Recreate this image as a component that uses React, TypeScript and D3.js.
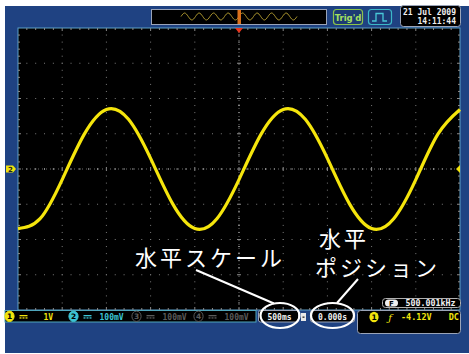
import React from "react";
import * as d3 from "d3";

const traceTime = [0, 0.5, 1, 1.5, 2, 2.5, 3, 3.5, 4, 4.5, 5, 5.5, 6, 6.5, 7, 7.5, 8, 8.5, 9, 9.5, 10];
const traceVolt = [-1.69, -1.41, -0.3, 0.99, 1.69, 1.41, 0.3, -0.99, -1.69, -1.41, -0.3, 0.99, 1.69, 1.41, 0.3, -0.99, -1.69, -1.41, -0.3, 0.99, 1.69];

// Record overview waveform (quarter-period samples)
const miniWave = [0, 1, 0, -1, 0, 1, 0, -1, 0, 1, 0, -1, 0, 1, 0, -1, 0, 1, 0, -1, 0, 1, 0, -1, 0, 1, 0, -1, 0, 1, 0, -1, 0];

const channelLabels = ["1", "2", "3", "4"];
const channelScales = ["1V", "100mV", "100mV", "100mV"];
const channelColors = ["#f2e40c", "#3cc4d4", "#5a5a5a", "#5a5a5a"];
const timeScaleLabel = "500ms";
const timePosLabel = "0.000s";
const freqLabel = "500.001kHz";
const trigLevel = "-4.12V";
const trigCoupling = "DC";
const dateLine = "21 Jul 2009";
const timeLine = "14:11:44";
const annotScale = "水平スケール";
const annotPos1 = "水平";
const annotPos2 = "ポジション";

const DIVX = 10;
const DIVY = 8;

export default function App() {
  const x = d3.scaleLinear().domain([0, DIVX]).range([18, 460]);
  const y = d3.scaleLinear().domain([-DIVY / 2, DIVY / 2]).range([310, 28]);

  const line = d3
    .line<number>()
    .x((_, i) => x(traceTime[i]))
    .y((d) => y(d))
    .curve(d3.curveNatural);

  const mx = d3.scaleLinear().domain([0, miniWave.length - 1]).range([181, 297]);
  const my = d3.scaleLinear().domain([-1, 1]).range([20, 13]);
  const miniLine = d3
    .line<number>()
    .x((_, i) => mx(i))
    .y((d) => my(d))
    .curve(d3.curveNatural);

  const dots: React.ReactNode[] = [];
  for (let j = 1; j < DIVY; j++) {
    if (j === DIVY / 2) continue;
    for (let k = 1; k < DIVX * 5; k++) {
      dots.push(<rect key={`h${j}-${k}`} x={x(k / 5) - 0.5} y={y(j - DIVY / 2) - 0.5} width={1} height={1} fill="#7a7a7a" />);
    }
  }
  for (let i = 1; i < DIVX; i++) {
    if (i === DIVX / 2) continue;
    for (let k = 1; k < DIVY * 5; k++) {
      dots.push(<rect key={`v${i}-${k}`} x={x(i) - 0.5} y={y(k / 5 - DIVY / 2) - 0.5} width={1} height={1} fill="#7a7a7a" />);
    }
  }
  const ticks: React.ReactNode[] = [];
  for (let k = 1; k < DIVX * 5; k++) {
    const big = k % 5 === 0;
    const xx = x(k / 5);
    ticks.push(<line key={`ct${k}`} x1={xx} x2={xx} y1={y(0) - (big ? 2 : 1)} y2={y(0) + (big ? 2 : 1)} stroke="#8a8a8a" strokeWidth={1} />);
    ticks.push(<line key={`tt${k}`} x1={xx} x2={xx} y1={28} y2={28 + (big ? 3 : 2)} stroke="#8a8a8a" strokeWidth={1} />);
    ticks.push(<line key={`bt${k}`} x1={xx} x2={xx} y1={310} y2={310 - (big ? 3 : 2)} stroke="#8a8a8a" strokeWidth={1} />);
  }
  for (let k = 1; k < DIVY * 5; k++) {
    const big = k % 5 === 0;
    const yy = y(k / 5 - DIVY / 2);
    ticks.push(<line key={`cv${k}`} x1={x(5) - (big ? 2 : 1)} x2={x(5) + (big ? 2 : 1)} y1={yy} y2={yy} stroke="#8a8a8a" strokeWidth={1} />);
    ticks.push(<line key={`lv${k}`} x1={18} x2={18 + (big ? 3 : 2)} y1={yy} y2={yy} stroke="#8a8a8a" strokeWidth={1} />);
    ticks.push(<line key={`rv${k}`} x1={460} x2={460 - (big ? 3 : 2)} y1={yy} y2={yy} stroke="#8a8a8a" strokeWidth={1} />);
  }
  ticks.push(<line key="cx" x1={18} x2={460} y1={y(0)} y2={y(0)} stroke="#6a6a6a" strokeWidth={1} strokeDasharray="1 3" />);
  ticks.push(<line key="cy" x1={x(5)} x2={x(5)} y1={28} y2={310} stroke="#6a6a6a" strokeWidth={1} strokeDasharray="1 3" />);

  const mono = "'DejaVu Sans Mono', monospace";
  const blue = "#1f4282";

  const chX = [9.5, 73.5, 136.5, 198.5];

  const dcSym = (cx: number, color: string, key: string) => (
    <g key={key}>
      <rect x={cx - 4} y={315} width={8} height={1.3} fill={color} />
      <rect x={cx - 4} y={317.3} width={2} height={1.3} fill={color} />
      <rect x={cx - 1} y={317.3} width={2} height={1.3} fill={color} />
      <rect x={cx + 2} y={317.3} width={2} height={1.3} fill={color} />
    </g>
  );

  return (
    <svg width={469} height={354} style={{ position: "absolute", left: 0, top: 0, background: "#ffffff" }}>
      <rect x={5} y={6} width={464} height={347} fill={blue} />
      <rect x={18} y={28} width={442} height={282} fill="#000" stroke="#5d9fc8" strokeWidth={1} />
      {dots}
      {ticks}
      <path d={line(traceVolt) || ""} fill="none" stroke="#f5e50c" strokeWidth={3.2} strokeLinejoin="round" />

      {/* top bar */}
      <rect x={151.5} y={9.5} width={175} height={15} fill="#000" stroke="#9aa4b8" strokeWidth={1} />
      <path d={miniLine(miniWave) || ""} fill="none" stroke="#b09a30" strokeWidth={1} />
      <rect x={237.5} y={10} width={3.5} height={14} fill="#d9701c" />
      <rect x={333.5} y={9.5} width={29} height={15} rx={3} fill="#1c3a74" stroke="#8cc44c" strokeWidth={1.2} />
      <text x={348} y={20.5} textAnchor="middle" fontFamily="'DejaVu Sans', sans-serif" fontWeight="bold" fontSize={8.5} fill="#a6e060">Trig'd</text>
      <rect x={368.5} y={9.5} width={23} height={15} rx={3} fill="#1c3a74" stroke="#3cb8c8" strokeWidth={1.2} />
      <path d="M372,21 L376,21 L376,13.5 L383,13.5 L383,21 L387,21" fill="none" stroke="#48c8d8" strokeWidth={1.3} />
      <rect x={400.5} y={5.5} width={60} height={21} rx={3} fill="#000" stroke="#9aa4b8" strokeWidth={1} />
      <text x={456} y={15} textAnchor="end" fontFamily={mono} fontWeight="bold" fontSize={8} fill="#f0f0f0">{dateLine}</text>
      <text x={456} y={24} textAnchor="end" fontFamily={mono} fontWeight="bold" fontSize={8} fill="#f0f0f0">{timeLine}</text>

      {/* markers */}
      <path d={`M${x(5) - 4},28 L${x(5) + 4},28 L${x(5)},33 Z`} fill="#e8361e" />
      <path d={`M6,${y(0) - 3.5} L13,${y(0) - 3.5} L16,${y(0)} L13,${y(0) + 3.5} L6,${y(0) + 3.5} Z`} fill="#f2e40c" />
      <text x={10.5} y={y(0) + 2.8} textAnchor="middle" fontFamily="'DejaVu Sans', sans-serif" fontWeight="bold" fontSize={7} fill="#222">2</text>
      <path d={`M460,${y(0) - 4} L456,${y(0)} L460,${y(0) + 4} Z`} fill="#f2e40c" />

      {/* frequency box */}
      <rect x={382.5} y={298.5} width={78} height={9} rx={3} fill="#000" stroke="#b0b0b0" strokeWidth={1} />
      <rect x={385} y={299.5} width={13} height={7} rx={3.5} fill="#f0f0f0" />
      <text x={391.5} y={305.5} textAnchor="middle" fontFamily="'DejaVu Sans', sans-serif" fontWeight="bold" fontSize={7} fill="#000">F</text>
      <text x={430.5} y={306} textAnchor="middle" fontFamily={mono} fontWeight="bold" fontSize={8.3} fill="#f0f0f0">{freqLabel}</text>

      {/* status bar */}
      <rect x={5} y={310.5} width={251} height={11.5} fill="#000" stroke="#4fa6bc" strokeWidth={1} />
      {channelLabels.map((c, i) => {
        const active = i < 2;
        return (
          <g key={c}>
            <ellipse cx={chX[i]} cy={316.3} rx={4.6} ry={5.2} fill={active ? channelColors[i] : "none"} stroke={channelColors[i]} strokeWidth={1} />
            <text x={chX[i]} y={319.2} textAnchor="middle" fontFamily="'DejaVu Sans', sans-serif" fontWeight="bold" fontSize={7.5} fill={active ? "#000" : channelColors[i]}>{c}</text>
            {dcSym(chX[i] + 14, channelColors[i], `dc${c}`)}
            <text x={chX[i] + 26 + (i === 0 ? 8 : 0)} y={319.5} fontFamily={mono} fontWeight="bold" fontSize={8} fill={channelColors[i]}>{channelScales[i]}</text>
          </g>
        );
      })}
      <rect x={258.5} y={310.5} width={40} height={11.5} rx={2} fill="#000" stroke="#9aa4b8" strokeWidth={1} />
      <text x={279.5} y={319.5} textAnchor="middle" fontFamily={mono} fontWeight="bold" fontSize={8} fill="#f0f0f0">{timeScaleLabel}</text>
      <rect x={301} y={313} width={5} height={8} fill="#e8e8e8" />
      <rect x={302.5} y={316.5} width={2} height={1.3} fill="#222" />
      <rect x={310.5} y={310.5} width={44} height={11.5} rx={2} fill="#000" stroke="#9aa4b8" strokeWidth={1} />
      <text x={332.5} y={319.5} textAnchor="middle" fontFamily={mono} fontWeight="bold" fontSize={8} fill="#f0f0f0">{timePosLabel}</text>
      <rect x={357.5} y={310.5} width={103} height={23} rx={3} fill="#000" stroke="#9aa4b8" strokeWidth={1} />
      <ellipse cx={374} cy={317} rx={4.6} ry={5.2} fill="#f2e40c" />
      <text x={374} y={319.8} textAnchor="middle" fontFamily="'DejaVu Sans', sans-serif" fontWeight="bold" fontSize={7.5} fill="#000">1</text>
      <text x={390} y={320.5} textAnchor="middle" fontFamily="'DejaVu Serif', serif" fontStyle="italic" fontSize={10} fill="#f2e40c">ƒ</text>
      <text x={401} y={320} fontFamily={mono} fontWeight="bold" fontSize={8.5} fill="#f2e40c">{trigLevel}</text>
      <text x={459} y={320} textAnchor="end" fontFamily={mono} fontWeight="bold" fontSize={8.5} fill="#f2e40c">{trigCoupling}</text>

      {/* annotations */}
      <ellipse cx={280} cy={315.5} rx={19.5} ry={12.5} fill="none" stroke="#fff" strokeWidth={2.2} />
      <ellipse cx={332.5} cy={315.5} rx={21.5} ry={12.5} fill="none" stroke="#fff" strokeWidth={2.2} />
      <line x1={196} y1={270} x2={274} y2={303.5} stroke="#fff" strokeWidth={2} />
      <line x1={358} y1={279} x2={337} y2={303} stroke="#fff" strokeWidth={2} />
      <g fontFamily="'Noto Sans CJK JP', sans-serif" fontSize={22} fill="#fff" letterSpacing={3}>
        <text x={135} y={266}>{annotScale}</text>
        <text x={319} y={247}>{annotPos1}</text>
        <text x={315} y={276}>{annotPos2}</text>
      </g>
    </svg>
  );
}
